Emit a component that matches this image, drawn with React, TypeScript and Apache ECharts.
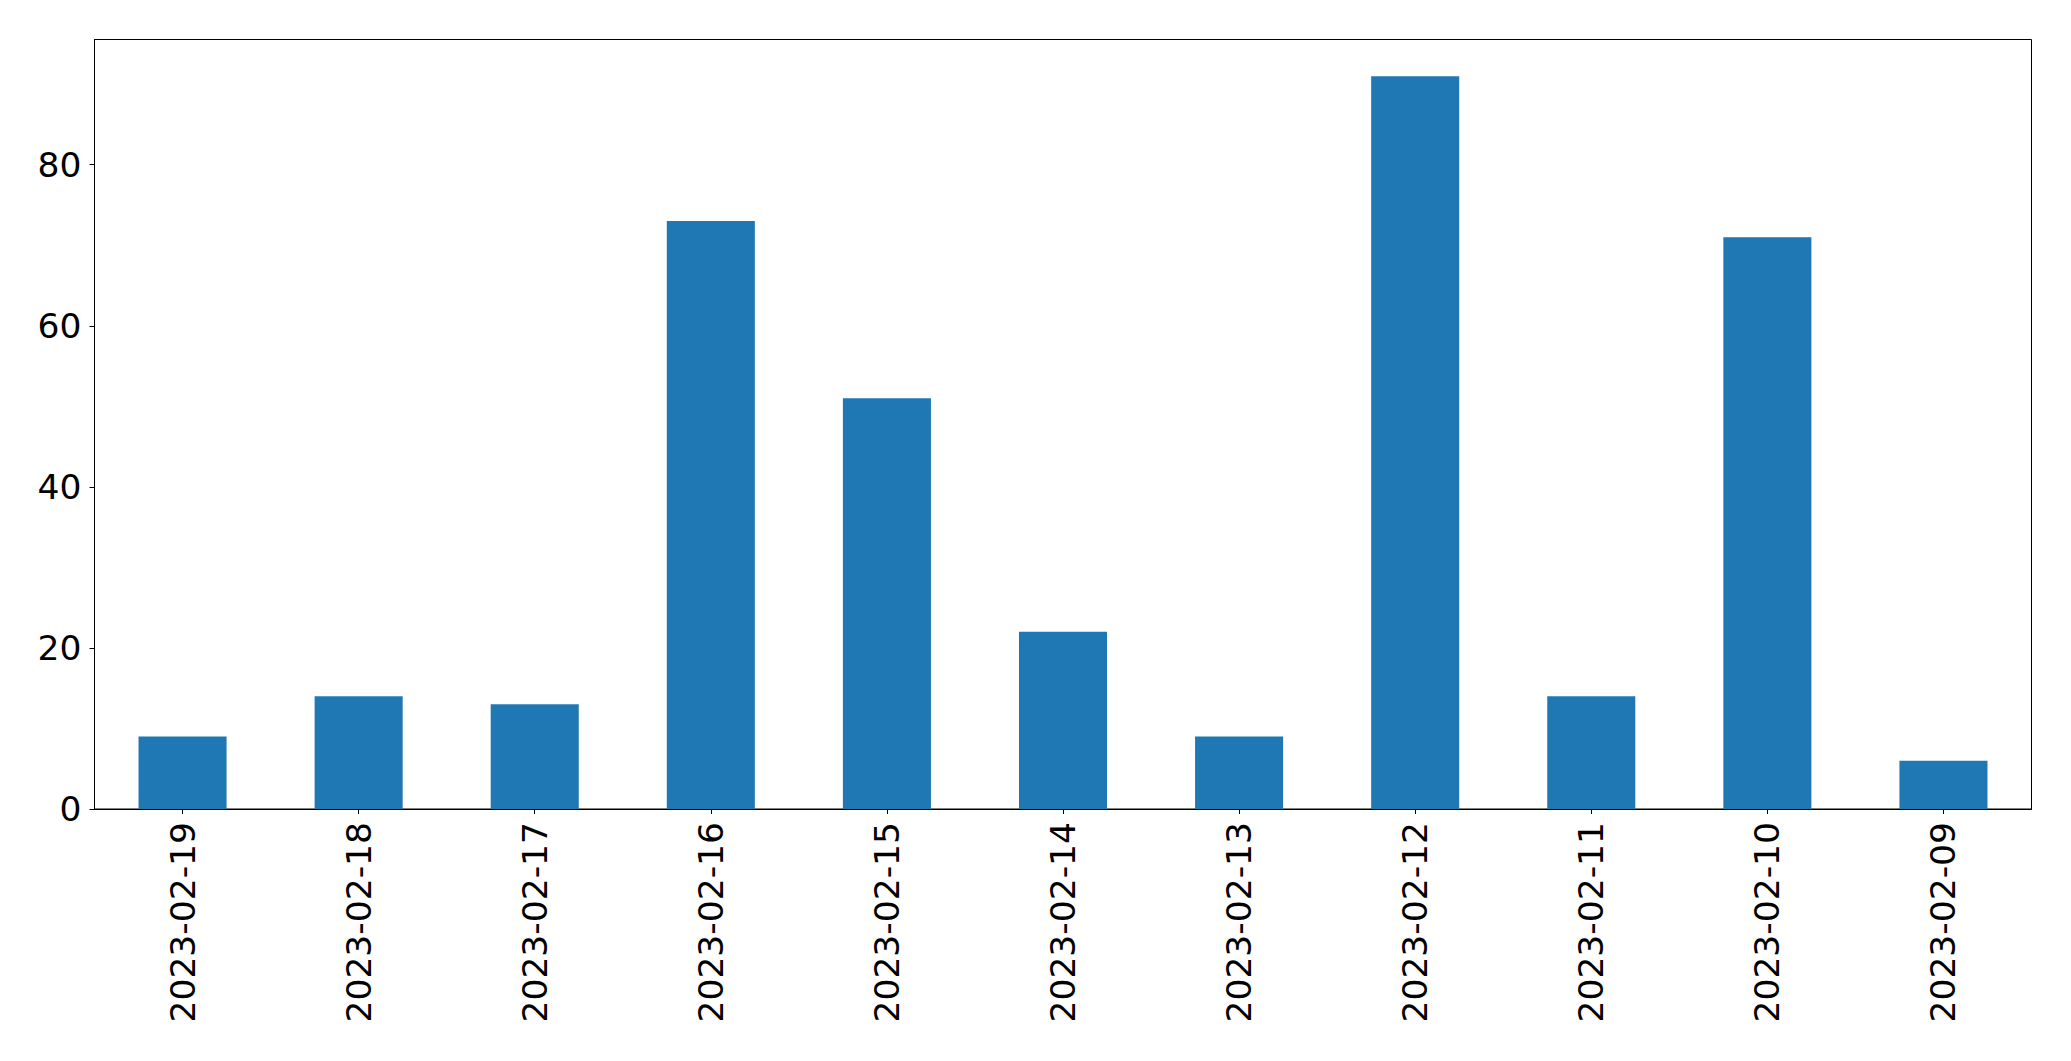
import React, { useEffect, useRef } from "react";
import * as echarts from "echarts";

const categories = [
  "2023-02-19", "2023-02-18", "2023-02-17", "2023-02-16", "2023-02-15", "2023-02-14",
  "2023-02-13", "2023-02-12", "2023-02-11", "2023-02-10", "2023-02-09",
];
const values = [9, 14, 13, 73, 51, 22, 9, 91, 14, 71, 6];
const yTicks = [0, 20, 40, 60, 80];
const yMax = 95.55;

export default function App() {
  const ref = useRef<HTMLDivElement>(null);
  useEffect(() => {
    document.body.style.margin = "0";
    const chart = echarts.init(ref.current!, null, { renderer: "svg" });
    const font = "DejaVu Sans";
    chart.setOption({
      animation: false,
      backgroundColor: "#ffffff",
      grid: {
        left: 94.5,
        top: 39.5,
        right: 39.5,
        bottom: 252,
        show: true,
        borderColor: "#000",
        borderWidth: 1,
        backgroundColor: "transparent",
      },
      xAxis: {
        type: "category",
        data: categories,
        axisLine: { show: true, lineStyle: { color: "#000", width: 1 } },
        axisTick: { show: true, alignWithLabel: true, length: 5, lineStyle: { color: "#000" } },
        axisLabel: {
          rotate: 90,
          interval: 0,
          margin: 13,
          fontFamily: font,
          fontSize: 34.5,
          color: "#000",
        },
        splitLine: { show: false },
      },
      yAxis: {
        type: "value",
        min: 0,
        max: yMax,
        interval: 20,
        axisLine: { show: true, lineStyle: { color: "#000", width: 1 } },
        axisTick: { show: true, length: 5, lineStyle: { color: "#000" }, customValues: yTicks },
        axisLabel: {
          margin: 13,
          fontFamily: font,
          fontSize: 34.5,
          color: "#000",
          customValues: yTicks,
        },
        splitLine: { show: false },
      },
      series: [
        {
          type: "bar",
          data: values,
          barWidth: "50%",
          itemStyle: { color: "#1f77b4" },
        },
      ],
    });
    return () => chart.dispose();
  }, []);
  return <div ref={ref} style={{ width: 2071, height: 1061 }} />;
}
